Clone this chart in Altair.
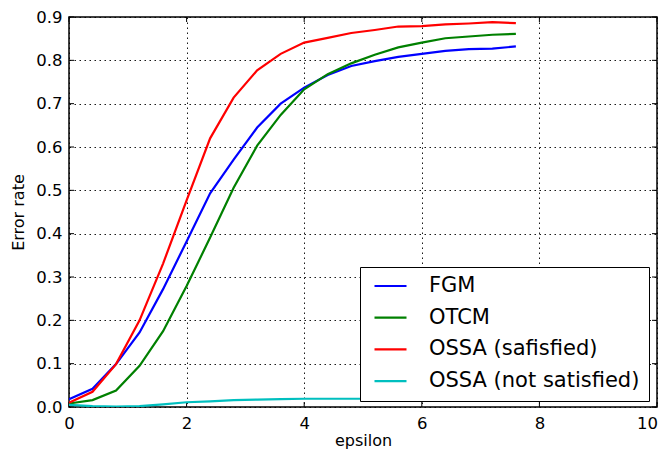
import altair as alt
import pandas as pd

eps = [0.0, 0.4, 0.8, 1.2, 1.6, 2.0, 2.4, 2.8, 3.2, 3.6, 4.0, 4.4, 4.8, 5.2, 5.6, 6.0, 6.4, 6.8, 7.2, 7.6]
fgm = [0.018, 0.042, 0.099, 0.172, 0.272, 0.382, 0.493, 0.571, 0.645, 0.700, 0.737, 0.766, 0.787, 0.798, 0.808, 0.815, 0.822, 0.826, 0.827, 0.832]
otcm = [0.008, 0.016, 0.038, 0.095, 0.175, 0.279, 0.391, 0.506, 0.603, 0.674, 0.733, 0.768, 0.793, 0.813, 0.830, 0.841, 0.851, 0.855, 0.859, 0.861]
ossa_sat = [0.010, 0.035, 0.099, 0.200, 0.331, 0.477, 0.620, 0.714, 0.777, 0.815, 0.841, 0.852, 0.863, 0.870, 0.878, 0.879, 0.883, 0.885, 0.888, 0.886]
ossa_not = [0.005, 0.002, 0.001, 0.002, 0.006, 0.011, 0.013, 0.016, 0.017, 0.018, 0.019, 0.019, 0.019, 0.019, 0.019, 0.019, 0.020, 0.020, 0.020, 0.020]

series_names = ["FGM", "OTCM", "OSSA (safisfied)", "OSSA (not satisfied)"]
series_colors = ["#0000ff", "#008000", "#ff0000", "#00bfbf"]
x_ticks = [0, 2, 4, 6, 8, 10]
y_ticks = [0.0, 0.1, 0.2, 0.3, 0.4, 0.5, 0.6, 0.7, 0.8, 0.9]

rows = []
for name, vals in zip(series_names, [fgm, otcm, ossa_sat, ossa_not]):
    for i, (x, y) in enumerate(zip(eps, vals)):
        rows.append({"epsilon": x, "rate": y, "series": name, "order": i})
df = pd.DataFrame(rows)

W, H = 588, 390
FONT = "DejaVu Sans"

xscale = alt.Scale(domain=[0, 10], nice=False, zero=False)
yscale = alt.Scale(domain=[0, 0.9], nice=False, zero=False)

lines = alt.Chart(df).mark_line(strokeWidth=2.2, clip=True).encode(
    x=alt.X("epsilon:Q", scale=xscale, title="epsilon",
            axis=alt.Axis(values=x_ticks, format="d", grid=True, labelFlush=False,
                          labelOffset=alt.expr("datum.value == 10 ? -10 : 0"))),
    y=alt.Y("rate:Q", scale=yscale, title="Error rate",
            axis=alt.Axis(values=y_ticks, format=".1f", grid=True, labelFlush=False)),
    color=alt.Color("series:N", scale=alt.Scale(domain=series_names, range=series_colors),
                    sort=series_names,
                    legend=alt.Legend(title=None, orient="none", legendX=291, legendY=250,
                                      symbolType="stroke", symbolSize=1024, symbolStrokeWidth=2.2,
                                      clipHeight=20, rowPadding=10.7,
                                      labelFontSize=21, labelFont=FONT, labelColor="black",
                                      labelLimit=400,
                                      labelOffset=21, padding=9, symbolOffset=4,
                                      strokeColor="black", fillColor="white")),
    order="order:Q",
)

xt = pd.DataFrame({"v": x_ticks})
yt = pd.DataFrame({"v": y_ticks})
tick_x_bottom = alt.Chart(xt).mark_rule(color="black", strokeWidth=1).encode(
    x=alt.X("v:Q", scale=xscale), y=alt.value(H), y2=alt.value(H - 5))
tick_x_top = alt.Chart(xt).mark_rule(color="black", strokeWidth=1).encode(
    x=alt.X("v:Q", scale=xscale), y=alt.value(0), y2=alt.value(5))
tick_y_left = alt.Chart(yt).mark_rule(color="black", strokeWidth=1).encode(
    y=alt.Y("v:Q", scale=yscale), x=alt.value(0), x2=alt.value(5))
tick_y_right = alt.Chart(yt).mark_rule(color="black", strokeWidth=1).encode(
    y=alt.Y("v:Q", scale=yscale), x=alt.value(W), x2=alt.value(W - 5))

chart = alt.layer(tick_x_bottom, tick_x_top, tick_y_left, tick_y_right, lines).properties(
    width=W, height=H,
    autosize=alt.AutoSizeParams(type="none"),
    padding={"left": 61, "top": 9, "right": 2, "bottom": 42},
).configure_view(
    stroke="black", strokeWidth=1.5
).configure_axis(
    domain=False, ticks=False,
    gridColor="black", gridDash=[1.5, 3.5], gridWidth=1, gridOpacity=0.9,
    labelFont=FONT, labelFontSize=16.5, labelColor="black",
    titleFont=FONT, titleFontSize=16, titleColor="black", titleFontWeight="normal",
).configure_axisX(
    labelPadding=8, titlePadding=1
).configure_axisY(
    labelPadding=7, titlePadding=9
)

chart.save("out.html", embed_options={"renderer": "svg", "actions": False})
